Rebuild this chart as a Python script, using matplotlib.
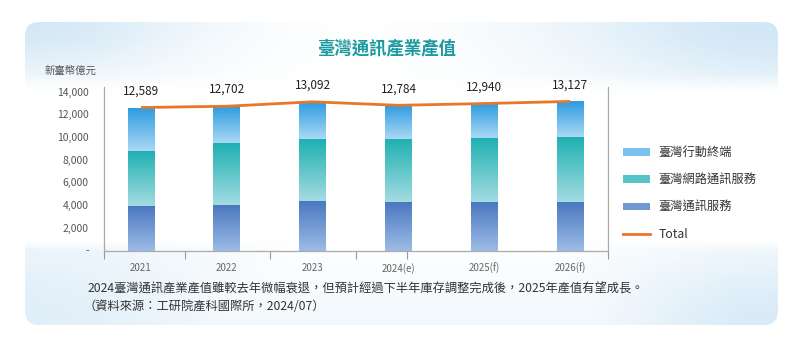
import numpy as np
import matplotlib
matplotlib.use("Agg")
import matplotlib.pyplot as plt
from matplotlib.patches import FancyBboxPatch, Patch
from matplotlib.lines import Line2D
from matplotlib.colors import to_rgb

plt.rcParams['font.family'] = ['Noto Sans CJK TC', 'DejaVu Sans']

# ---- data (新臺幣億元) ----
years = ["2021", "2022", "2023", "2024(e)", "2025(f)", "2026(f)"]
service = [3920, 4030, 4360, 4240, 4240, 4240]      # 臺灣通訊服務
network = [4870, 5410, 5440, 5550, 5640, 5730]      # 臺灣網路通訊服務
device = [3799, 3262, 3292, 2994, 3060, 3157]       # 臺灣行動終端
total = [12589, 12702, 13092, 12784, 12940, 13127]  # Total
yticks = [0, 2000, 4000, 6000, 8000, 10000, 12000, 14000]

W, H = 800, 339
fig = plt.figure(figsize=(W / 100, H / 100), dpi=100)
fig.patch.set_facecolor("white")

# ---- background panel with soft blue corners ----
bg = fig.add_axes([0, 0, 1, 1], zorder=0)
bg.set_xlim(0, W)
bg.set_ylim(H, 0)
bg.axis("off")
yy, xx = np.mgrid[0:H, 0:W].astype(float)


def corner(cx, cy, rx, ry):
    return np.exp(-((xx - cx) / rx) ** 2 - ((yy - cy) / ry) ** 2)


s = np.maximum.reduce([
    0.85 * corner(25, 22, 170, 55),
    0.9 * corner(778, 22, 220, 70),
    0.6 * corner(25, 325, 200, 110),
    0.75 * corner(778, 325, 170, 80),
    0.25 * np.clip((yy - 240) / 85, 0, 1),
])
band = np.clip((92 - yy) / 18, 0, 1) + np.clip((yy - 240) / 10, 0, 1)
s = s * np.clip(band, 0, 1)
blue = np.array(to_rgb("#cce4f5"))
img = np.ones((H, W, 3)) * (1 - s[..., None]) + blue * s[..., None]
panel = FancyBboxPatch((25, 22), 753, 303, boxstyle="round,pad=0,rounding_size=14",
                       facecolor="none", edgecolor="none", transform=bg.transData)
bg.add_patch(panel)
im = bg.imshow(img, extent=[0, W, H, 0], aspect="auto", zorder=0)
im.set_clip_path(panel)

# ---- main chart ----
ax = fig.add_axes([104 / W, 1 - 250.5 / H, (608 - 104) / W, (250.5 - 87) / H], zorder=2)
ax.patch.set_alpha(0)
x = np.arange(len(years))
bw = 0.31
xlo, xhi = -0.43, 5.44

grad_colors = {
    "service": ("#4a78bf", "#9dbce6"),
    "network": ("#1eb0b2", "#a3dce1"),
    "device": ("#2b9be0", "#aad8f4"),
}


def gradient_bars(vals, bottom, key):
    bars = ax.bar(x, vals, bw, bottom=bottom, facecolor="none", edgecolor="none")
    top_c, bot_c = (np.array(to_rgb(c)) for c in grad_colors[key])
    t = np.linspace(0, 1, 100)[:, None, None]
    g = top_c * (1 - t) + bot_c * t
    for p in bars.patches:
        x0, y0 = p.get_x(), p.get_y()
        gi = ax.imshow(g, extent=[x0, x0 + p.get_width(), y0, y0 + p.get_height()],
                       origin="upper", aspect="auto", zorder=2, interpolation="bilinear")
        gi.set_clip_path(p)
    return bars


b1 = np.array(service)
b2 = b1 + np.array(network)
gradient_bars(service, 0, "service")
gradient_bars(network, b1, "network")
gradient_bars(device, b2, "device")

ax.plot(x, total, color="#e8772a", lw=2, zorder=4, solid_capstyle="butt")
for xi, v in zip(x, total):
    ax.annotate(f"{v:,}", (xi, v), xytext=(0, 12), textcoords="offset points",
                ha="center", va="center", fontsize=8.5, color="#222222")

ax.set_xlim(xlo, xhi)
ax.set_ylim(0, 14396)
ax.set_yticks(yticks)
ax.set_yticklabels(["-" if v == 0 else f"{v:,}" for v in yticks])
ax.tick_params(axis="y", length=0, pad=11, labelsize=7.5, labelcolor="#555555")
ax.set_xticks(x)
ax.set_xticklabels(years)
ax.tick_params(axis="x", which="major", length=0, pad=9, labelsize=7, labelcolor="#666666")
ax.set_xticks([xlo, 0.51, 1.5, 2.5, 3.1, xhi], minor=True)
ax.tick_params(axis="x", which="minor", length=6, width=0.8, color="#999999", direction="out")
for side in ["left", "right", "bottom"]:
    ax.spines[side].set_color("#aaaaaa")
    ax.spines[side].set_linewidth(0.9)
ax.spines["top"].set_visible(False)

# ---- texts ----
fig.text(387 / W, 1 - 48 / H, "臺灣通訊產業產值", ha="center", va="center",
         fontsize=12.5, fontweight="bold", color="#1a9aa0", zorder=5)
fig.text(70 / W, 1 - 71 / H, "新臺幣億元", ha="center", va="center",
         fontsize=7.5, color="#555555", zorder=5)
fig.text(88 / W, 1 - 289 / H,
         "2024臺灣通訊產業產值雖較去年微幅衰退，但預計經過下半年庫存調整完成後，2025年產值有望成長。",
         ha="left", va="center", fontsize=8.8, color="#333333", zorder=5)
fig.text(84 / W, 1 - 306 / H, "（資料來源：工研院產科國際所，2024/07）",
         ha="left", va="center", fontsize=8.8, color="#333333", zorder=5)

# ---- legend ----
handles = [
    Patch(facecolor="#7cc2ee", edgecolor="none"),
    Patch(facecolor="#58c4c8", edgecolor="none"),
    Patch(facecolor="#7099d4", edgecolor="none"),
    Line2D([], [], color="#e8772a", lw=2),
]
labels = ["臺灣行動終端", "臺灣網路通訊服務", "臺灣通訊服務", "Total"]
leg = fig.legend(handles, labels, loc="upper left", bbox_to_anchor=(623 / W, 1 - 146 / H),
                 frameon=False, fontsize=8.8, handlelength=2.2, handleheight=0.6,
                 handletextpad=0.7, labelspacing=1.18, borderpad=0, borderaxespad=0)
for t in leg.get_texts():
    t.set_color("#333333")
leg.set_zorder(5)

fig.savefig("out.png", dpi=100, facecolor="white")
